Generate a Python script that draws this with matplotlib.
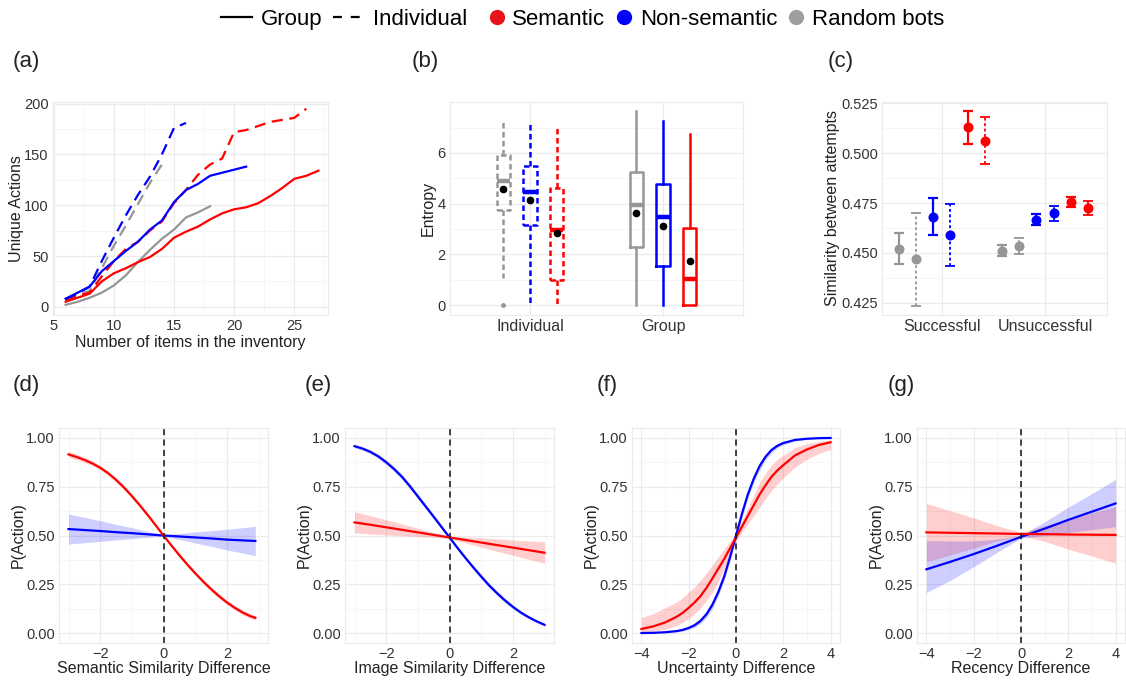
import matplotlib
matplotlib.use('Agg')
import matplotlib.pyplot as plt
from matplotlib.lines import Line2D
from matplotlib.ticker import MultipleLocator, FixedLocator, FormatStrFormatter
import numpy as np

plt.rcParams['font.family'] = ['Liberation Sans', 'DejaVu Sans']
plt.rcParams['axes.unicode_minus'] = True

RED = '#FF0000'
BLUE = '#0000FF'
GRAY = '#969696'
TXT = '#222222'
TICK = '#333333'

# ---------------- data: panel (a) ----------------
a_x_sem_grp = [6, 7, 8, 9, 10, 11, 12, 13, 14, 15, 16, 17, 18, 19, 20, 21, 22, 23, 24, 25, 26, 27]
a_y_sem_grp = [5, 9, 13, 25, 33, 38, 44, 49, 57, 68, 74, 79, 86, 92, 96, 98, 102, 109, 117, 126, 129, 134]
a_x_non_grp = [6, 7, 8, 9, 10, 11, 12, 13, 14, 15, 16, 17, 18, 19, 20, 21]
a_y_non_grp = [8, 14, 20, 35, 45, 55, 64, 76, 85, 103, 115, 121, 129, 132, 135, 138]
a_x_rnd_grp = [6, 7, 8, 9, 10, 11, 12, 13, 14, 15, 16, 17, 18]
a_y_rnd_grp = [2, 5, 9, 14, 21, 31, 44, 56, 67, 76, 88, 93, 99]
a_x_sem_ind = [6, 7, 8, 9, 10, 11, 12, 13, 14, 15, 16, 17, 18, 19, 20, 21, 22, 23, 24, 25, 26]
a_y_sem_ind = [6, 11, 14, 30, 45, 57, 64, 75, 84, 102, 115, 130, 140, 146, 172, 174, 178, 182, 184, 186, 195]
a_x_non_ind = [6, 7, 8, 9, 10, 11, 12, 13, 14, 15, 16]
a_y_non_ind = [8, 13, 20, 45, 68, 90, 110, 128, 150, 176, 181]
a_x_rnd_ind = [6, 7, 8, 9, 10, 11, 12, 13, 14]
a_y_rnd_ind = [6, 11, 16, 38, 60, 80, 101, 122, 140]

# ---------------- data: panel (b) ----------------
b_settings = ['Individual', 'Group']
b_types = ['Random bots', 'Non-semantic', 'Semantic']
b_ind_whislo = [1.05, 0.0, 0.0]
b_ind_q1 = [3.76, 3.16, 0.99]
b_ind_med = [4.88, 4.48, 2.97]
b_ind_q3 = [5.92, 5.48, 4.60]
b_ind_whishi = [7.21, 7.20, 7.08]
b_ind_mean = [4.57, 4.15, 2.83]
b_ind_fliers = [[0.0], [], []]
b_grp_whislo = [0.0, 0.0, 0.0]
b_grp_q1 = [2.31, 1.56, 0.0]
b_grp_med = [3.96, 3.47, 1.03]
b_grp_q3 = [5.24, 4.79, 3.03]
b_grp_whishi = [7.65, 7.28, 6.75]
b_grp_mean = [3.65, 3.13, 1.75]
b_grp_fliers = [[], [], []]

# ---------------- data: panel (c) ----------------
c_conditions = ['Successful', 'Unsuccessful']
c_types = ['Random bots', 'Random bots', 'Non-semantic', 'Non-semantic', 'Semantic', 'Semantic']
c_settings = ['Group', 'Individual', 'Group', 'Individual', 'Group', 'Individual']
c_mean_succ = [0.4519, 0.4469, 0.4681, 0.4589, 0.5130, 0.5063]
c_lo_succ = [0.4442, 0.4235, 0.4589, 0.4436, 0.5046, 0.4946]
c_hi_succ = [0.4598, 0.4702, 0.4773, 0.4743, 0.5212, 0.5180]
c_mean_uns = [0.4511, 0.4534, 0.4665, 0.4698, 0.4757, 0.4723]
c_lo_uns = [0.4486, 0.4492, 0.4638, 0.4660, 0.4732, 0.4690]
c_hi_uns = [0.4541, 0.4573, 0.4693, 0.4737, 0.4782, 0.4760]

# ---------------- data: panel (d) ----------------
d_x_sem = [-3, -2.75, -2.5, -2.25, -2, -1.75, -1.5, -1.25, -1, -0.75, -0.5, -0.25, 0,
           0.25, 0.5, 0.75, 1, 1.25, 1.5, 1.75, 2, 2.25, 2.5, 2.75, 2.9]
d_sem = [0.915, 0.902, 0.887, 0.869, 0.847, 0.819, 0.785, 0.746, 0.702, 0.655, 0.605, 0.553, 0.500,
         0.449, 0.399, 0.352, 0.307, 0.265, 0.226, 0.190, 0.158, 0.130, 0.106, 0.087, 0.079]
d_sem_lo = [0.900, 0.888, 0.874, 0.857, 0.835, 0.808, 0.775, 0.736, 0.692, 0.646, 0.597, 0.546, 0.493,
            0.442, 0.391, 0.343, 0.297, 0.254, 0.214, 0.178, 0.146, 0.118, 0.094, 0.075, 0.067]
d_sem_hi = [0.930, 0.916, 0.900, 0.881, 0.859, 0.830, 0.795, 0.756, 0.712, 0.664, 0.613, 0.560, 0.507,
            0.456, 0.407, 0.361, 0.317, 0.276, 0.238, 0.202, 0.170, 0.142, 0.118, 0.099, 0.091]
d_x_non = [-3, -2.5, -2, -1.5, -1, -0.5, 0, 0.5, 1, 1.5, 2, 2.5, 2.9]
d_non = [0.533, 0.528, 0.523, 0.517, 0.512, 0.506, 0.500, 0.495, 0.490, 0.485, 0.479, 0.475, 0.472]
d_non_lo = [0.456, 0.463, 0.470, 0.477, 0.484, 0.491, 0.496, 0.480, 0.462, 0.445, 0.426, 0.410, 0.397]
d_non_hi = [0.610, 0.593, 0.576, 0.557, 0.540, 0.521, 0.504, 0.510, 0.518, 0.525, 0.532, 0.540, 0.547]

# ---------------- data: panel (e) ----------------
e_x_non = [-3, -2.75, -2.5, -2.25, -2, -1.75, -1.5, -1.25, -1, -0.75, -0.5, -0.25, 0,
           0.25, 0.5, 0.75, 1, 1.25, 1.5, 1.75, 2, 2.25, 2.5, 2.75, 3]
e_non = [0.957, 0.945, 0.928, 0.905, 0.875, 0.840, 0.800, 0.752, 0.700, 0.648, 0.596, 0.543, 0.490,
         0.437, 0.386, 0.337, 0.290, 0.245, 0.205, 0.168, 0.135, 0.106, 0.082, 0.061, 0.043]
e_non_lo = [0.949, 0.936, 0.918, 0.894, 0.863, 0.828, 0.787, 0.739, 0.687, 0.636, 0.585, 0.533, 0.481,
            0.428, 0.376, 0.326, 0.278, 0.233, 0.193, 0.157, 0.125, 0.097, 0.074, 0.054, 0.037]
e_non_hi = [0.965, 0.954, 0.938, 0.916, 0.887, 0.852, 0.813, 0.765, 0.713, 0.660, 0.607, 0.553, 0.499,
            0.446, 0.396, 0.348, 0.302, 0.257, 0.217, 0.179, 0.145, 0.115, 0.090, 0.068, 0.049]
e_x_sem = [-3, -2.5, -2, -1.5, -1, -0.5, 0, 0.5, 1, 1.5, 2, 2.5, 3]
e_sem = [0.567, 0.555, 0.542, 0.529, 0.516, 0.503, 0.49, 0.477, 0.464, 0.451, 0.438, 0.425, 0.412]
e_sem_lo = [0.513, 0.508, 0.503, 0.499, 0.495, 0.49, 0.485, 0.462, 0.44, 0.42, 0.399, 0.378, 0.358]
e_sem_hi = [0.622, 0.601, 0.581, 0.559, 0.537, 0.516, 0.495, 0.492, 0.488, 0.483, 0.477, 0.472, 0.468]

# ---------------- data: panel (f) ----------------
f_x = [-4, -3.5, -3, -2.5, -2.25, -2, -1.75, -1.5, -1.25, -1, -0.75, -0.5, -0.25, 0,
       0.25, 0.5, 0.75, 1, 1.25, 1.5, 1.75, 2, 2.5, 3, 3.5, 4]
f_non = [0.001, 0.002, 0.005, 0.011, 0.017, 0.027, 0.041, 0.063, 0.097, 0.145, 0.21, 0.29, 0.39, 0.50,
         0.61, 0.71, 0.79, 0.855, 0.903, 0.937, 0.959, 0.973, 0.989, 0.995, 0.998, 0.999]
f_non_lo = [0.0, 0.001, 0.003, 0.007, 0.011, 0.019, 0.030, 0.050, 0.080, 0.125, 0.19, 0.27, 0.37, 0.48,
            0.59, 0.69, 0.77, 0.835, 0.886, 0.922, 0.948, 0.964, 0.984, 0.992, 0.996, 0.998]
f_non_hi = [0.002, 0.004, 0.008, 0.016, 0.025, 0.037, 0.054, 0.080, 0.116, 0.168, 0.235, 0.315, 0.41, 0.52,
            0.63, 0.73, 0.81, 0.875, 0.918, 0.951, 0.969, 0.981, 0.993, 0.997, 0.999, 1.0]
f_sem = [0.022, 0.035, 0.055, 0.085, 0.105, 0.13, 0.158, 0.19, 0.232, 0.28, 0.33, 0.38, 0.435, 0.49,
         0.545, 0.60, 0.655, 0.71, 0.757, 0.80, 0.833, 0.86, 0.91, 0.94, 0.963, 0.977]
f_sem_lo = [0.005, 0.01, 0.02, 0.04, 0.056, 0.075, 0.10, 0.13, 0.168, 0.21, 0.265, 0.33, 0.40, 0.47,
            0.515, 0.56, 0.60, 0.645, 0.69, 0.73, 0.765, 0.795, 0.85, 0.89, 0.92, 0.94]
f_sem_hi = [0.08, 0.10, 0.13, 0.16, 0.183, 0.21, 0.238, 0.27, 0.308, 0.35, 0.39, 0.43, 0.47, 0.51,
            0.575, 0.64, 0.705, 0.77, 0.82, 0.86, 0.89, 0.91, 0.95, 0.97, 0.98, 0.99]

# ---------------- data: panel (g) ----------------
g_x = [-4, -3, -2, -1, 0, 1, 2, 3, 4]
g_non = [0.327, 0.365, 0.405, 0.448, 0.493, 0.535, 0.58, 0.622, 0.664]
g_non_lo = [0.208, 0.27, 0.34, 0.415, 0.486, 0.50, 0.515, 0.53, 0.545]
g_non_hi = [0.474, 0.472, 0.472, 0.482, 0.50, 0.57, 0.645, 0.715, 0.787]
g_sem = [0.516, 0.514, 0.512, 0.51, 0.508, 0.507, 0.505, 0.504, 0.503]
g_sem_lo = [0.366, 0.40, 0.435, 0.472, 0.50, 0.47, 0.43, 0.395, 0.358]
g_sem_hi = [0.664, 0.627, 0.59, 0.55, 0.516, 0.55, 0.58, 0.615, 0.647]

TYPE_COL = {'Semantic': RED, 'Non-semantic': BLUE, 'Random bots': GRAY}

W, H = 1126, 680
fig = plt.figure(figsize=(W / 100, H / 100), dpi=100)


def add_ax(l, r, t, b):
    return fig.add_axes([l / W, 1 - b / H, (r - l) / W, (b - t) / H])


def style(ax):
    ax.set_axisbelow(True)
    for s in ax.spines.values():
        s.set_color('#EBEBEB')
        s.set_linewidth(0.8)
    ax.tick_params(which='both', length=0, labelsize=10.5, labelcolor=TICK, pad=3)
    ax.grid(which='major', color='#EBEBEB', lw=0.9)
    ax.grid(which='minor', color='#F5F5F5', lw=0.6)


LAB = 11.5
DASH = (0, (5, 3))
YPAD = 0.5

# ---------------- panel (a) ----------------
ax = add_ax(53, 328, 102, 315)
style(ax)
ax.plot(a_x_rnd_grp, a_y_rnd_grp, color=GRAY, lw=1.6)
ax.plot(a_x_sem_grp, a_y_sem_grp, color=RED, lw=1.6)
ax.plot(a_x_rnd_ind, a_y_rnd_ind, color=GRAY, lw=1.6, ls=DASH)
ax.plot(a_x_sem_ind, a_y_sem_ind, color=RED, lw=1.6, ls=DASH)
ax.plot(a_x_non_ind, a_y_non_ind, color=BLUE, lw=1.6, ls=DASH)
ax.plot(a_x_non_grp, a_y_non_grp, color=BLUE, lw=1.6)
ax.set_xlim(4.95, 27.8)
ax.set_ylim(-8, 201.6)
ax.xaxis.set_major_locator(MultipleLocator(5))
ax.xaxis.set_minor_locator(MultipleLocator(2.5))
ax.yaxis.set_major_locator(MultipleLocator(50))
ax.yaxis.set_minor_locator(MultipleLocator(25))
ax.set_ylabel('Unique Actions', fontsize=LAB, color=TXT, labelpad=YPAD)
ax.set_xlabel('Number of items in the inventory', fontsize=LAB, color=TXT, labelpad=1)

# ---------------- panel (b) ----------------
ax = add_ax(450, 743, 102, 315)
style(ax)
offs_b = [-0.2, 0.0, 0.2]
for si, (setting, wlo, q1, med, q3, whi, mn, fl) in enumerate([
        ('Individual', b_ind_whislo, b_ind_q1, b_ind_med, b_ind_q3, b_ind_whishi, b_ind_mean, b_ind_fliers),
        ('Group', b_grp_whislo, b_grp_q1, b_grp_med, b_grp_q3, b_grp_whishi, b_grp_mean, b_grp_fliers)]):
    ls = (0, (2.2, 1.4)) if setting == 'Individual' else '-'
    for ti, t in enumerate(b_types):
        col = TYPE_COL[t]
        stats = [dict(whislo=wlo[ti], q1=q1[ti], med=med[ti], q3=q3[ti], whishi=whi[ti],
                      mean=mn[ti], fliers=fl[ti], label='')]
        ax.bxp(stats, positions=[si + 1 + offs_b[ti]], widths=0.1, showmeans=True, showcaps=False,
               boxprops=dict(color=col, lw=1.8, ls=ls),
               whiskerprops=dict(color=col, lw=1.8, ls=ls),
               medianprops=dict(color=col, lw=3.2, solid_capstyle='butt'),
               meanprops=dict(marker='o', markerfacecolor='black', markeredgecolor='black', markersize=4.5),
               flierprops=dict(marker='o', markerfacecolor=col, markeredgecolor=col, markersize=2.5),
               manage_ticks=False)
ax.set_xlim(0.4, 2.6)
ax.set_ylim(-0.39, 8.01)
ax.xaxis.set_major_locator(FixedLocator([1, 2]))
ax.set_xticklabels(b_settings, fontsize=LAB)
ax.yaxis.set_major_locator(FixedLocator([0, 2, 4, 6]))
ax.yaxis.set_minor_locator(FixedLocator([1, 3, 5, 7]))
ax.set_ylabel('Entropy', fontsize=LAB, color=TXT, labelpad=YPAD + 1)

# ---------------- panel (c) ----------------
ax = add_ax(882, 1107, 102, 315)
style(ax)
offs_c = np.linspace(-5 / 12, 5 / 12, 6)
for i in range(6):
    col = TYPE_COL[c_types[i]]
    xs = [1 + offs_c[i], 2 + offs_c[i]]
    ys = [c_mean_succ[i], c_mean_uns[i]]
    lo = [c_mean_succ[i] - c_lo_succ[i], c_mean_uns[i] - c_lo_uns[i]]
    hi = [c_hi_succ[i] - c_mean_succ[i], c_hi_uns[i] - c_mean_uns[i]]
    ind = c_settings[i] == 'Individual'
    line, caps, bars = ax.errorbar(xs, ys, yerr=[lo, hi], fmt='o', color=col, ms=6.2,
                                   elinewidth=1.3 if ind else 1.6, capsize=3.3,
                                   capthick=1.3 if ind else 1.6)
    if ind:
        bars[0].set_linestyle((0, (1.6, 1.4)))
ax.set_xlim(0.42, 2.6)
ax.set_ylim(0.4188, 0.5257)
ax.xaxis.set_major_locator(FixedLocator([1, 2]))
ax.set_xticklabels(c_conditions, fontsize=LAB)
ax.yaxis.set_major_locator(MultipleLocator(0.025))
ax.yaxis.set_minor_locator(MultipleLocator(0.0125))
ax.yaxis.set_major_formatter(FormatStrFormatter('%.3f'))
ax.set_ylabel('Similarity between attempts', fontsize=LAB, color=TXT, labelpad=YPAD)


# ---------------- bottom row ----------------
def bottom(l, r, xs_sem, sem, sem_lo, sem_hi, xs_non, non, non_lo, non_hi, xlabel, xlim):
    ax = add_ax(l, r, 428, 643)
    style(ax)
    ax.fill_between(xs_sem, sem_lo, sem_hi, color=RED, alpha=0.19, lw=0)
    ax.fill_between(xs_non, non_lo, non_hi, color=BLUE, alpha=0.19, lw=0)
    ax.plot(xs_non, non, color=BLUE, lw=1.6)
    ax.plot(xs_sem, sem, color=RED, lw=1.6)
    ax.axvline(0, color='#111111', lw=1.1, ls=(0, (4, 2.8)))
    ax.set_xlim(*xlim)
    ax.set_ylim(-0.05, 1.05)
    ax.xaxis.set_major_locator(MultipleLocator(2))
    ax.xaxis.set_minor_locator(MultipleLocator(1))
    ax.yaxis.set_major_locator(MultipleLocator(0.25))
    ax.yaxis.set_minor_locator(MultipleLocator(0.125))
    ax.yaxis.set_major_formatter(FormatStrFormatter('%.2f'))
    ax.set_ylabel('P(Action)', fontsize=LAB, color=TXT, labelpad=YPAD)
    ax.set_xlabel(xlabel, fontsize=LAB, color=TXT, labelpad=0)
    return ax


bottom(59, 268, d_x_sem, d_sem, d_sem_lo, d_sem_hi, d_x_non, d_non, d_non_lo, d_non_hi,
       'Semantic Similarity Difference', (-3.3, 3.3))
bottom(345, 554, e_x_sem, e_sem, e_sem_lo, e_sem_hi, e_x_non, e_non, e_non_lo, e_non_hi,
       'Image Similarity Difference', (-3.3, 3.3))
bottom(632, 840, f_x, f_sem, f_sem_lo, f_sem_hi, f_x, f_non, f_non_lo, f_non_hi,
       'Uncertainty Difference', (-4.4, 4.4))
bottom(917, 1125, g_x, g_sem, g_sem_lo, g_sem_hi, g_x, g_non, g_non_lo, g_non_hi,
       'Recency Difference', (-4.4, 4.4))

# ---------------- panel letters ----------------
for lab, px, py in [('(a)', 13, 62), ('(b)', 412, 62), ('(c)', 828, 62),
                    ('(d)', 13, 385), ('(e)', 305, 385), ('(f)', 597, 385), ('(g)', 888, 385)]:
    fig.text(px / W, 1 - py / H, lab, fontsize=16, color=TXT, ha='left', va='center')

# ---------------- legend ----------------
lt_handles = [Line2D([], [], color='black', lw=1.6),
              Line2D([], [], color='black', lw=1.6, ls=(0, (4, 4)))]
fig.legend(lt_handles, ['Group', 'Individual'], loc='center', bbox_to_anchor=(344 / W, 1 - 19.5 / H),
           ncol=2, frameon=False, fontsize=16, handlelength=1.4, handletextpad=0.4,
           columnspacing=0.5, borderpad=0, borderaxespad=0)
col_handles = [Line2D([], [], ls='none', marker='o', ms=11, color=c, markeredgewidth=0)
               for c in ['#E8141C', BLUE, '#9E9E9E']]
fig.legend(col_handles, ['Semantic', 'Non-semantic', 'Random bots'], loc='center',
           bbox_to_anchor=(716 / W, 1 - 19.5 / H), ncol=3, frameon=False, fontsize=16,
           handlelength=0.8, handletextpad=0.3, columnspacing=0.45, borderpad=0, borderaxespad=0)

fig.savefig('out.png', dpi=100)
